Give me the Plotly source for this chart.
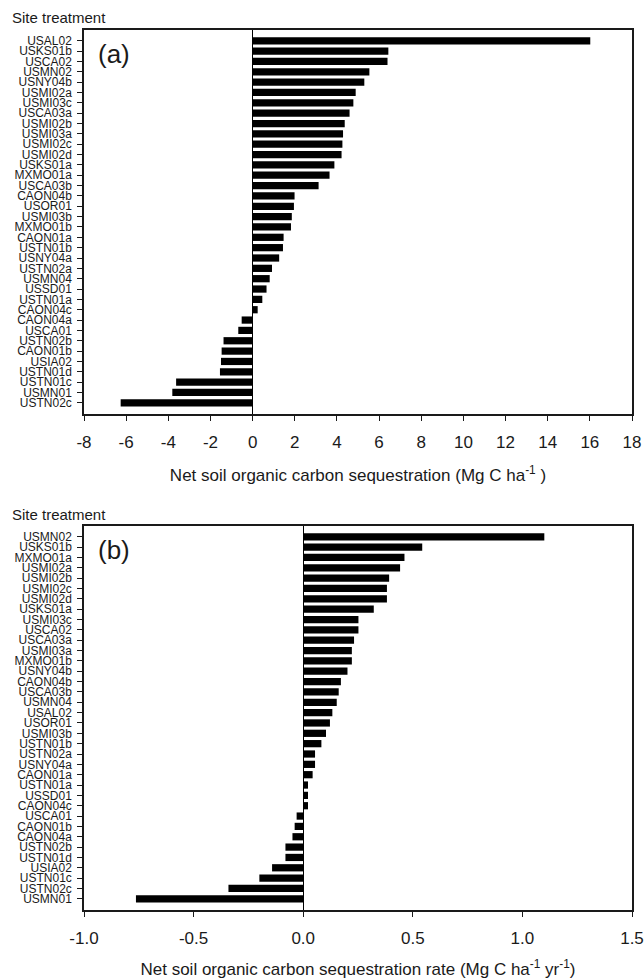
import plotly.graph_objects as go

# ---- Data: panel (a) net SOC sequestration (Mg C ha-1) ----
sites_a = ["USAL02", "USKS01b", "USCA02", "USMN02", "USNY04b", "USMI02a", "USMI03c",
           "USCA03a", "USMI02b", "USMI03a", "USMI02c", "USMI02d", "USKS01a", "MXMO01a",
           "USCA03b", "CAON04b", "USOR01", "USMI03b", "MXMO01b", "CAON01a", "USTN01b",
           "USNY04a", "USTN02a", "USMN04", "USSD01", "USTN01a", "CAON04c", "CAON04a",
           "USCA01", "USTN02b", "CAON01b", "USIA02", "USTN01d", "USTN01c", "USMN01",
           "USTN02c"]
values_a = [16.02, 6.44, 6.40, 5.54, 5.30, 4.89, 4.78,
            4.60, 4.37, 4.29, 4.26, 4.22, 3.88, 3.65,
            3.13, 1.99, 1.96, 1.86, 1.82, 1.47, 1.44,
            1.26, 0.92, 0.81, 0.66, 0.46, 0.24, -0.52,
            -0.68, -1.38, -1.47, -1.50, -1.55, -3.63, -3.81,
            -6.26]

# ---- Data: panel (b) net SOC sequestration rate (Mg C ha-1 yr-1) ----
sites_b = ["USMN02", "USKS01b", "MXMO01a", "USMI02a", "USMI02b", "USMI02c", "USMI02d",
           "USKS01a", "USMI03c", "USCA02", "USCA03a", "USMI03a", "MXMO01b", "USNY04b",
           "CAON04b", "USCA03b", "USMN04", "USAL02", "USOR01", "USMI03b", "USTN01b",
           "USTN02a", "USNY04a", "CAON01a", "USTN01a", "USSD01", "CAON04c", "USCA01",
           "CAON01b", "CAON04a", "USTN02b", "USTN01d", "USIA02", "USTN01c", "USTN02c",
           "USMN01"]
values_b = [1.10, 0.543, 0.462, 0.442, 0.392, 0.382, 0.382,
            0.322, 0.252, 0.252, 0.232, 0.222, 0.222, 0.202,
            0.172, 0.162, 0.153, 0.133, 0.122, 0.104, 0.083,
            0.054, 0.054, 0.043, 0.022, 0.022, 0.022, -0.030,
            -0.039, -0.049, -0.081, -0.081, -0.142, -0.200, -0.341,
            -0.763]

xticks_a = [-8, -6, -4, -2, 0, 2, 4, 6, 8, 10, 12, 14, 16, 18]
xticktext_a = ["-8", "-6", "-4", "-2", "0", "2", "4", "6", "8", "10", "12", "14", "16", "18"]
xticks_b = [-1.0, -0.5, 0.0, 0.5, 1.0, 1.5]
xticktext_b = ["-1.0", "-0.5", "0.0", "0.5", "1.0", "1.5"]

W, H = 644, 979
ML, MR, MT, MB = 84, 12, 30, 69
PW = W - ML - MR
PH = H - MT - MB


def py(p):
    return (H - MB - p) / PH


def px(p):
    return (p - ML) / PW


FONT = "Liberation Sans, Arial, sans-serif"
INK = "#1a1a1a"

fig = go.Figure()
fig.add_trace(go.Bar(x=values_a, y=sites_a, orientation="h", width=0.7,
                     marker=dict(color="black", line=dict(width=0)),
                     xaxis="x", yaxis="y", showlegend=False))
fig.add_trace(go.Bar(x=values_b, y=sites_b, orientation="h", width=0.7,
                     marker=dict(color="black", line=dict(width=0)),
                     xaxis="x2", yaxis="y2", showlegend=False))

common_x = dict(showline=True, mirror=True, linecolor=INK, linewidth=1.5,
                ticks="outside", ticklen=5, tickwidth=1.2, tickcolor=INK,
                showgrid=False, zeroline=True, zerolinecolor="black", zerolinewidth=1.3,
                tickfont=dict(family=FONT, size=17, color=INK),
                ticklabelstandoff=7, automargin=False)
common_y = dict(showline=True, mirror=True, linecolor=INK, linewidth=1.5,
                ticks="outside", ticklen=5, tickwidth=1.2, tickcolor=INK,
                showgrid=False, type="category",
                tickfont=dict(family=FONT, size=12, color=INK),
                ticklabelstandoff=3, automargin=False)

fig.update_layout(
    width=W, height=H,
    margin=dict(l=ML, r=MR, t=MT, b=MB),
    plot_bgcolor="white", paper_bgcolor="white",
    bargap=0.3,
    xaxis=dict(common_x, anchor="y", domain=[0, 1], range=[-8, 18],
               tickmode="array", tickvals=xticks_a, ticktext=xticktext_a,
               title=dict(text="Net soil organic carbon sequestration (Mg C ha<sup>-1</sup> )",
                          font=dict(family=FONT, size=17, color=INK), standoff=18)),
    yaxis=dict(common_y, anchor="x", domain=[py(414), 1.0],
               categoryorder="array", categoryarray=sites_a,
               tickmode="array", tickvals=sites_a, ticktext=sites_a,
               range=[36.08, -1.04]),
    xaxis2=dict(common_x, anchor="y2", domain=[0, 1], range=[-1.0, 1.5],
                tickmode="array", tickvals=xticks_b, ticktext=xticktext_b,
                title=dict(text="Net soil organic carbon sequestration rate (Mg C ha<sup>-1</sup> yr<sup>-1</sup>)",
                           font=dict(family=FONT, size=17, color=INK), standoff=19)),
    yaxis2=dict(common_y, anchor="x2", domain=[0.0, py(526)],
                categoryorder="array", categoryarray=sites_b,
                tickmode="array", tickvals=sites_b, ticktext=sites_b,
                range=[36.08, -1.04]),
    annotations=[
        dict(text="Site treatment", xref="paper", yref="paper", x=px(10), y=py(18),
             xanchor="left", yanchor="middle", showarrow=False,
             font=dict(family=FONT, size=15, color=INK)),
        dict(text="Site treatment", xref="paper", yref="paper", x=px(10), y=py(514),
             xanchor="left", yanchor="middle", showarrow=False,
             font=dict(family=FONT, size=15, color=INK)),
        dict(text="(a)", xref="paper", yref="paper", x=px(96), y=py(54),
             xanchor="left", yanchor="middle", showarrow=False,
             font=dict(family=FONT, size=26, color=INK)),
        dict(text="(b)", xref="paper", yref="paper", x=px(96), y=py(550),
             xanchor="left", yanchor="middle", showarrow=False,
             font=dict(family=FONT, size=26, color=INK)),
    ],
)

fig.write_html("out.html", config={"displayModeBar": False},
               post_script="document.body.style.margin='0px';")
